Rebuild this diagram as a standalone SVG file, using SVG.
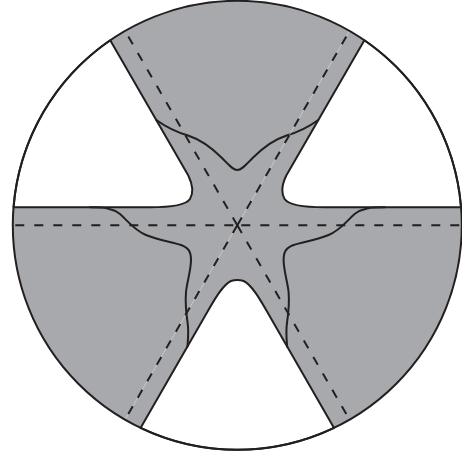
<svg xmlns="http://www.w3.org/2000/svg" width="462" height="456" viewBox="0 0 462 456">
  <style>
    .edge { fill: none; stroke: #231f20; stroke-width: 2; stroke-linejoin: round; stroke-linecap: round; }
    .white { fill: #ffffff; stroke: #231f20; stroke-width: 2; stroke-linejoin: round; }
    .dash { fill: none; stroke: #231f20; stroke-width: 2; stroke-dasharray: 9 10; }
    .hdash { stroke-dashoffset: 15; }
    .faint { fill: none; stroke: #dcdcde; stroke-width: 0.6; }
  </style>
  <rect width="462" height="456" fill="#ffffff"/>
  <g id="disc">
    <circle cx="237.3" cy="225.3" r="224.5" fill="#a7a9ac"/>
  </g>
  <g id="white-regions">
    <path id="upper-left" class="white" d="M 13.6 207.3 L 150 207.3 C 172 207.3 186 205 190 199 C 193.5 193 192.4 184 188.3 175.5 L 110.23 40.22 A 224.5 224.5 0 0 0 13.6 207.3 Z"/>
    <path id="upper-right" class="white" d="M 461 207.3 L 324.6 207.3 C 302.6 207.3 288.6 205 284.6 199 C 281.1 193 282.2 184 286.3 175.5 L 364.37 40.22 A 224.5 224.5 0 0 1 461 207.3 Z"/>
    <path id="bottom" class="white" d="M 140.55 427.88 L 205 316 C 212 304 222 285 231 281 C 234 280 235.5 280 237.3 280 C 239.1 280 240.6 280 243.6 281 C 252.6 285 262.6 304 269.6 316 L 334.05 427.88 A 224.5 224.5 0 0 1 140.55 427.88 Z"/>
  </g>
  <g id="boundaries">
    <path id="top-curve" class="edge" d="M 156.3 120 C 166 127 176 132 188 135.5 C 202 140 212 148 222 158 C 229 165 233 170 237.3 170 C 241.6 170 245.6 165 252.6 158 C 262.6 148 272.6 140 286.6 135.5 C 298.6 132 308.6 127 318.3 120"/>
    <path id="left-curve" class="edge" d="M 90 207.3 C 105 207.3 112 208 120 214 C 128 221 134 230 146 235 C 158 240 172 242 181 245 C 189 248 191 252 191 260 C 191 270 187 282 186 292 C 185 305 186 312 187.5 322 C 189 332 188 340 187.4 346.7"/>
    <path id="right-curve" class="edge" d="M 384.6 207.3 C 369.6 207.3 362.6 208 354.6 214 C 346.6 221 340.6 230 328.6 235 C 316.6 240 302.6 242 293.6 245 C 285.6 248 283.6 252 283.6 260 C 283.6 270 287.6 282 288.6 292 C 289.6 305 288.6 312 287.1 322 C 285.6 332 286.6 340 287.2 346.7"/>
  </g>
  <g id="axes">
    <line class="faint" x1="125.05" y1="419.7" x2="349.55" y2="30.9"/>
    <line class="dash hdash" x1="237.3" y1="225.3" x2="461.8" y2="225.3"/>
    <line class="dash hdash" x1="237.3" y1="225.3" x2="12.8" y2="225.3"/>
    <line class="dash" x1="237.3" y1="225.3" x2="349.55" y2="30.9"/>
    <line class="dash" x1="237.3" y1="225.3" x2="125.05" y2="419.7"/>
    <line class="dash" x1="237.3" y1="225.3" x2="125.05" y2="30.9"/>
    <line class="dash" x1="237.3" y1="225.3" x2="349.55" y2="419.7"/>
  </g>
  <g id="outline">
    <circle cx="237.3" cy="225.3" r="224.5" fill="none" stroke="#231f20" stroke-width="2"/>
  </g>
</svg>
